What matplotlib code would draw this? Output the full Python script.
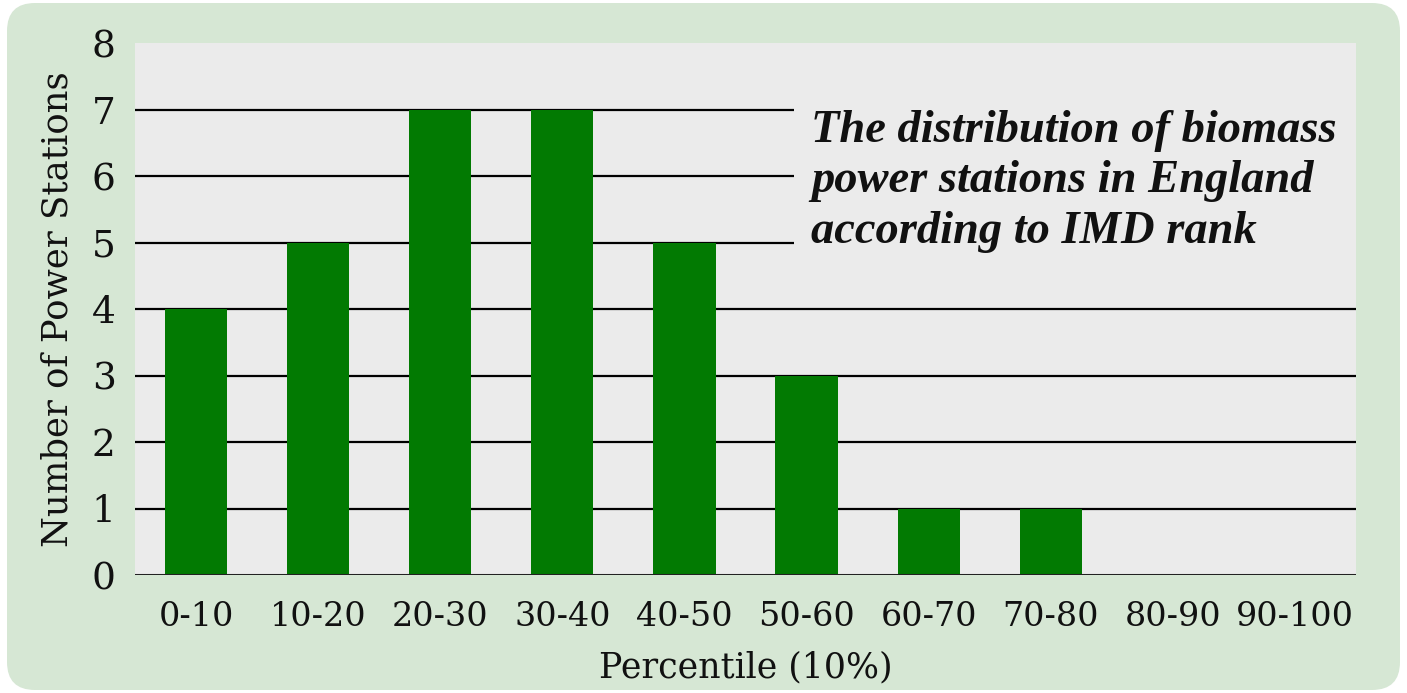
import numpy as np
import matplotlib
matplotlib.use('Agg')
import matplotlib.pyplot as plt
from matplotlib.patches import FancyBboxPatch, Rectangle
import matplotlib.transforms as mtransforms

# data
categories = ['0-10', '10-20', '20-30', '30-40', '40-50', '50-60',
              '60-70', '70-80', '80-90', '90-100']
stations = [4, 5, 7, 7, 5, 3, 1, 1, 0, 0]
y_ticks = [0, 1, 2, 3, 4, 5, 6, 7, 8]

title = 'The distribution of biomass\npower stations in England\naccording to IMD rank'

W, H = 1407, 693
fig = plt.figure(figsize=(W / 100, H / 100), dpi=100, facecolor='white')

# rounded light-green panel behind everything (pixel coords)
panel = FancyBboxPatch((7 + 28, 3 + 28), 1393 - 56, 687 - 56,
                       boxstyle='round,pad=28', transform=None,
                       facecolor='#d6e7d4', edgecolor='none', zorder=-10)
fig.patches.append(panel)

ax = fig.add_axes([135 / W, 118 / H, (1356 - 135) / W, (575 - 43) / H])
ax.set_facecolor('#ebebeb')

x = np.arange(len(categories))
ax.bar(x, stations, width=0.51, color='#027a02', zorder=3)

ax.set_xlim(-0.5, len(categories) - 0.5)
ax.set_ylim(0, 8)
ax.set_yticks(y_ticks)
ax.set_xticks(x)
ax.set_xticklabels(categories)

for v in y_ticks[1:-1]:
    ax.axhline(v, color='black', lw=1.6, zorder=2)
ax.axhline(0, color='#222222', lw=2.2, zorder=4)

# the title block hides the gridlines behind it
trans = mtransforms.blended_transform_factory(ax.transAxes, ax.transData)
ax.add_patch(Rectangle((0.54, 4.5), 0.46, 3.0, transform=trans,
                       facecolor='#ebebeb', edgecolor='none', zorder=2.5))

for s in ax.spines.values():
    s.set_visible(False)

ax.tick_params(axis='both', length=0, labelcolor='#111111')
ax.tick_params(axis='y', pad=14, labelsize=27)
ax.tick_params(axis='x', pad=19, labelsize=24)
for lab in ax.get_xticklabels() + ax.get_yticklabels():
    lab.set_family('DejaVu Serif')

ax.set_xlabel('Percentile (10%)', family='DejaVu Serif', fontsize=25,
              color='#111111', labelpad=12)
ax.set_ylabel('Number of Power Stations', family='DejaVu Serif', fontsize=25.5,
              color='#111111', labelpad=12)

ax.text(0.554, 0.875, title, transform=ax.transAxes, ha='left', va='top',
        family='Liberation Serif', fontsize=33.5, fontweight='bold',
        fontstyle='italic', color='#111111', linespacing=1.27, zorder=5)

fig.savefig('out.png', dpi=100, facecolor='white')
